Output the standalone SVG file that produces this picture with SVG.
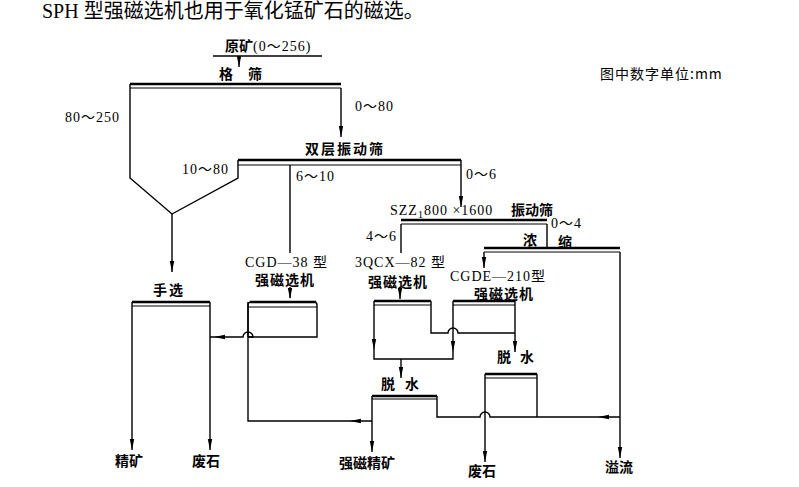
<svg xmlns="http://www.w3.org/2000/svg" xmlns:xlink="http://www.w3.org/1999/xlink" width="799" height="487" viewBox="0 0 799 487">
<style>
.ln{fill:none;stroke:#000;stroke-width:1.4}
.tk{fill:none;stroke:#000;stroke-width:2.6}
.th{fill:none;stroke:#000;stroke-width:1}
.cn{font-family:"Noto Sans CJK SC","Noto Sans",sans-serif;font-size:14px;font-weight:bold;fill:#000}
.nm{font-family:"Liberation Serif","Noto Sans CJK SC",serif;font-size:14px;fill:#000;letter-spacing:1px}
.ttl{font-family:"Liberation Serif","Noto Sans CJK SC",serif;font-size:20px;fill:#000}
.ah{fill:#000}
</style>
<defs>
<path id="ad" class="ah" d="M0,0 L-2.2,-11 L2.2,-11 Z"/>
<path id="al" class="ah" d="M0,0 L11,-2.2 L11,2.2 Z"/>
</defs>
<rect width="799" height="487" fill="#fff"/>
<text class="ttl" x="42" y="18">SPH 型强磁选机也用于氧化锰矿石的磁选。</text>
<text class="cn" x="600" y="79" style="font-weight:normal;font-size:14px;letter-spacing:1px">图中数字单位:mm</text>

<g id="feed">
<text class="cn" x="225" y="51">原矿<tspan class="nm" style="font-weight:normal">(0～256)</tspan></text>
<path class="ln" d="M213,56 H322"/>
</g>
<g id="grid-screen">
<text class="cn" x="219" y="79">格</text>
<text class="cn" x="248" y="79">筛</text>
<path class="tk" d="M130,84 H341"/>
<path class="th" d="M130,88 H341"/>
</g>
<g id="bin">
<path class="ln" d="M130,84 V178 L172,214 L238,178 V160"/>
</g>
<g id="double-screen">
<text class="cn" x="305" y="154" style="letter-spacing:2px">双层振动筛</text>
<path class="tk" d="M238,160 H461"/>
<path class="th" d="M238,165 H461"/>
</g>
<g id="hand-sort">
<text class="cn" x="153" y="295" style="letter-spacing:2px">手选</text>
<path class="tk" d="M132,302 H210"/>
<path class="th" d="M132,306 H210"/>
</g>
<g id="cgd">
<text class="nm" x="245" y="267">CGD—38 型</text>
<text class="cn" x="255" y="285" style="letter-spacing:1px">强磁选机</text>
<path class="ln" d="M248,337 V305 Q248,302 251,302 H314 Q317,302 317,305 V337 H248"/>
<path class="tk" d="M250,302 H316"/>
<path class="th" d="M248,307 H317"/>
</g>
<g id="szz-screen">
<text class="nm" x="390" y="215">SZZ<tspan font-size="10" dy="3">1</tspan><tspan dy="-3">800 ×1600</tspan></text>
<text class="cn" x="511" y="215">振动筛</text>
<path class="tk" d="M401,220 H547"/>
<path class="th" d="M401,224 H547"/>
</g>
<g id="thickener">
<text class="cn" x="523" y="245">浓</text>
<text class="cn" x="558" y="247">缩</text>
<path class="tk" d="M484,248 H620"/>
<path class="th" d="M484,252 H620"/>
</g>
<g id="qcx">
<text class="nm" x="355" y="267">3QCX—82 型</text>
<text class="cn" x="368" y="287" style="letter-spacing:1px">强磁选机</text>
<path class="tk" d="M374,301 H431"/>
<path class="th" d="M374,305 H431"/>
</g>
<g id="cgde">
<text class="nm" x="450" y="281">CGDE—210型</text>
<text class="cn" x="474" y="299" style="letter-spacing:1px">强磁选机</text>
<path class="tk" d="M453,301 H515"/>
<path class="th" d="M453,305 H515"/>
</g>
<g id="dewater-1">
<text class="cn" x="381" y="389">脱</text>
<text class="cn" x="405" y="389">水</text>
<path class="tk" d="M372,396 H437"/>
<path class="th" d="M372,399 H437"/>
</g>
<g id="dewater-2">
<text class="cn" x="497" y="362">脱</text>
<text class="cn" x="520" y="362">水</text>
<path class="tk" d="M485,374 H537"/>
<path class="th" d="M485,378 H537"/>
</g>
<g id="products">
<text class="cn" x="115" y="466">精矿</text>
<text class="cn" x="192" y="466">废石</text>
<text class="cn" x="339" y="468">强磁精矿</text>
<text class="cn" x="468" y="476">废石</text>
<text class="cn" x="605" y="472">溢流</text>
</g>

<g id="connectors">
<text class="nm" x="65" y="122">80～250</text>
<text class="nm" x="355" y="111">0～80</text>
<text class="nm" x="182" y="174">10～80</text>
<text class="nm" x="296" y="181">6～10</text>
<text class="nm" x="466" y="179">0～6</text>
<text class="nm" x="366" y="241">4～6</text>
<text class="nm" x="551" y="228">0～4</text>
<path class="ln" d="M239,56 V67"/>
<path class="ln" d="M341,88 V137"/>
<path class="ln" d="M461,160 V207"/>
<path class="ln" d="M290,165 V253 M290,287 V298"/>
<path class="ln" d="M172,214 V272"/>
<path class="ln" d="M132,302 V450"/>
<path class="ln" d="M210,302 V450"/>
<path class="ln" d="M248,337 H253 A5,5 0 0 0 243,337 H210"/>
<path class="ln" d="M248,302 V421 H372"/>
<path class="ln" d="M401,224 V253 M400,287 V299"/>
<path class="ln" d="M547,224 V248"/>
<path class="ln" d="M484,252 V268"/>
<path class="ln" d="M620,252 V458"/>
<path class="ln" d="M374,301 V359 H453 V301"/>
<path class="ln" d="M431,301 V333 H448 A5,5 0 0 1 458,333 H515"/>
<path class="ln" d="M515,301 V352"/>
<path class="ln" d="M401,359 V378"/>
<path class="ln" d="M372,396 V452"/>
<path class="ln" d="M437,396 V417 H480 A5,5 0 0 1 490,417 H620"/>
<path class="ln" d="M485,374 V462"/>
<path class="ln" d="M537,374 V417"/>
<use xlink:href="#ad" x="239" y="67"/>
<use xlink:href="#ad" x="341" y="137"/>
<use xlink:href="#ad" x="461" y="207"/>
<use xlink:href="#ad" x="290" y="299"/>
<use xlink:href="#ad" x="172" y="272"/>
<use xlink:href="#ad" x="132" y="450"/>
<use xlink:href="#ad" x="210" y="450"/>
<use xlink:href="#al" x="214" y="337"/>
<use xlink:href="#ad" x="400" y="299"/>
<use xlink:href="#ad" x="484" y="268"/>
<use xlink:href="#ad" x="620" y="458"/>
<use xlink:href="#ad" x="374" y="350"/>
<use xlink:href="#ad" x="453" y="352"/>
<use xlink:href="#ad" x="515" y="352"/>
<use xlink:href="#ad" x="401" y="378"/>
<use xlink:href="#ad" x="372" y="452"/>
<use xlink:href="#ad" x="485" y="462"/>
<use xlink:href="#al" x="350" y="421"/>
<use xlink:href="#al" x="598" y="417"/>
</g>
</svg>
